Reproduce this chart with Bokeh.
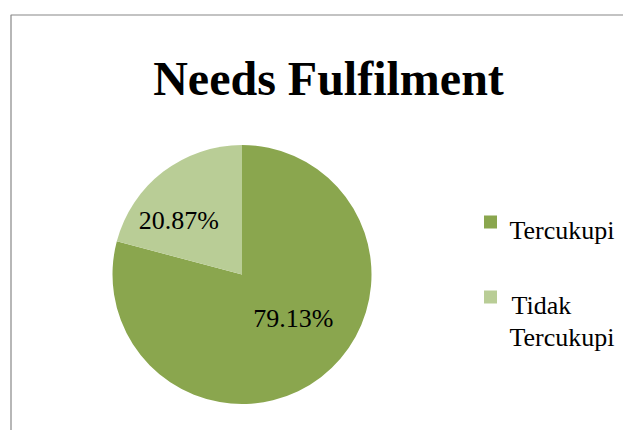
import numpy as np
from bokeh.plotting import figure
from bokeh.models import Range1d, ColumnDataSource
from bokeh.core.properties import value
from bokeh.embed import file_html
from bokeh.resources import INLINE

# ---- data ----
title = "Needs Fulfilment"
categories = ["Tercukupi", "Tidak Tercukupi"]
values = [79.13, 20.87]
colors = ["#8AA64E", "#B9CD96"]

# ---- layout (pixels, figure coords with y up) ----
W, H = 623, 430
FONT = "Liberation Serif"
cx, cy, R = 241.5, 156.0, 129.5
label_radius = [0.52, 0.64]          # fraction of R per slice
label_shift = np.deg2rad(12)         # angular nudge of labels

p = figure(width=W, height=H, output_backend="svg", toolbar_location=None,
           x_range=Range1d(0, W), y_range=Range1d(0, H),
           x_axis_type=None, y_axis_type=None, min_border=0)
p.outline_line_color = None
p.grid.visible = False
p.background_fill_color = "white"

# chart border (left and top edges visible)
p.line(x=[10.5, 10.5, W + 20], y=[-20, 415.5, 415.5], line_color="#878787", line_width=1.2)

# pie
vals = np.array(values, dtype=float)
frac = vals / vals.sum()
start = np.pi / 2 - 2 * np.pi * np.concatenate([[0], np.cumsum(frac)[:-1]])
end = start - 2 * np.pi * frac
src = ColumnDataSource(dict(start=start, end=end, color=colors))
p.wedge(x=cx, y=cy, radius=R, start_angle="start", end_angle="end",
        direction="clock", fill_color="color", line_color=None, source=src)

# data labels
mid = (start + end) / 2 + label_shift
lr = np.array(label_radius) * R
lx = cx + lr * np.cos(mid)
ly = cy + lr * np.sin(mid)
p.text(x=lx, y=ly, text=[f"{v:.2f}%" for v in values],
       text_font=value(FONT), text_font_size="26px", text_color="black",
       text_align="center", text_baseline="middle")

# title
p.text(x=[328], y=[352], text=[title], text_font=value(FONT),
       text_font_size="48px", text_font_style="bold", text_color="black",
       text_align="center", text_baseline="alphabetic")

# legend (manual)
leg_x, leg_y0, leg_step, line_h = 490.0, 208.5, 75.0, 32.0
for i, (cat, col) in enumerate(zip(categories, colors)):
    sy = leg_y0 - i * leg_step
    p.rect(x=[leg_x], y=[sy], width=13, height=13, fill_color=col, line_color=None)
    words = cat.split(" ")
    lines = [cat] if len(cat) <= 10 else words
    for j, ln in enumerate(lines):
        p.text(x=[leg_x + 19 + (2 if (len(lines) > 1 and j == 0) else 0)],
               y=[sy - 8.5 - j * line_h], text=[ln], text_font=value(FONT),
               text_font_size="26px", text_color="black",
               text_align="left", text_baseline="alphabetic")

open("out.html", "w").write(file_html(p, INLINE))
